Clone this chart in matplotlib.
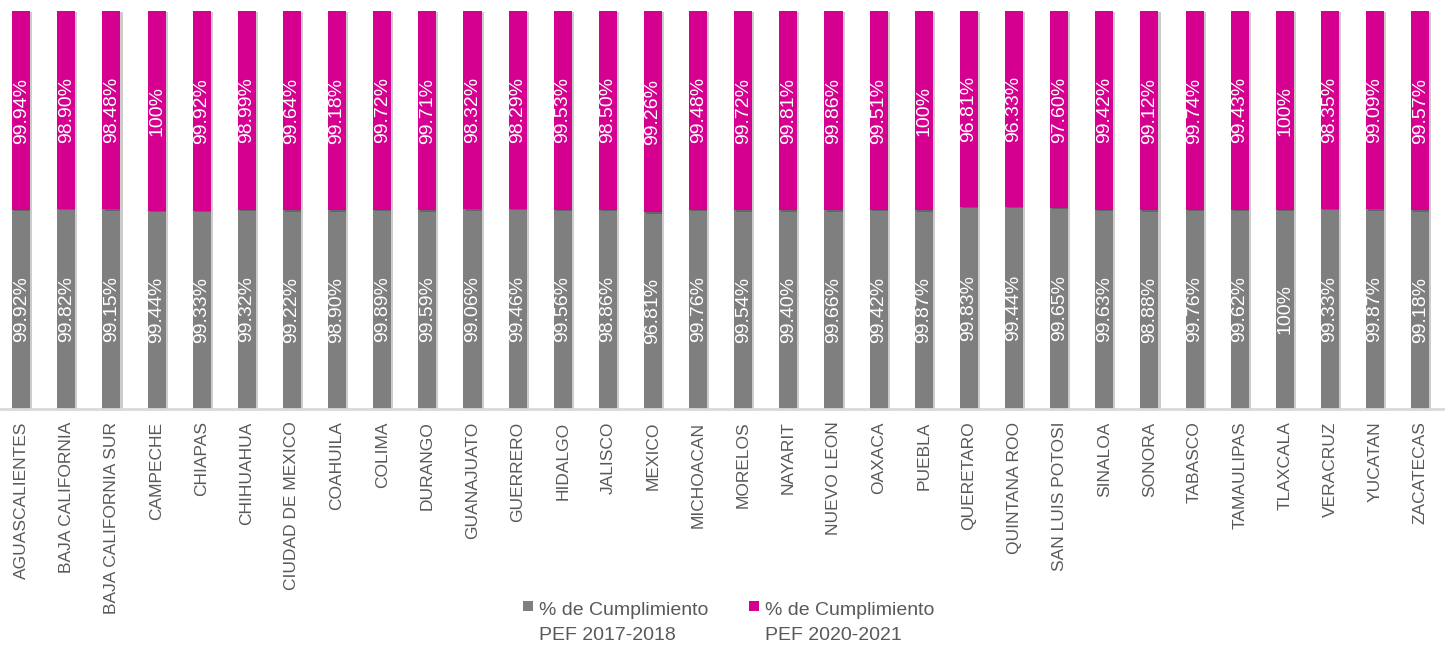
import matplotlib
matplotlib.use('Agg')
import matplotlib.pyplot as plt
import matplotlib.patheffects as pe
from matplotlib.patches import Rectangle, Patch
from matplotlib.legend_handler import HandlerBase
import numpy as np

estados = ['AGUASCALIENTES', 'BAJA CALIFORNIA', 'BAJA CALIFORNIA SUR', 'CAMPECHE', 'CHIAPAS',
           'CHIHUAHUA', 'CIUDAD DE MEXICO', 'COAHUILA', 'COLIMA', 'DURANGO', 'GUANAJUATO',
           'GUERRERO', 'HIDALGO', 'JALISCO', 'MEXICO', 'MICHOACAN', 'MORELOS', 'NAYARIT',
           'NUEVO LEON', 'OAXACA', 'PUEBLA', 'QUERETARO', 'QUINTANA ROO', 'SAN LUIS POTOSI',
           'SINALOA', 'SONORA', 'TABASCO', 'TAMAULIPAS', 'TLAXCALA', 'VERACRUZ', 'YUCATAN',
           'ZACATECAS']

pef_2017_2018 = [99.92, 99.82, 99.15, 99.44, 99.33, 99.32, 99.22, 98.90, 99.89, 99.59, 99.06,
                 99.46, 99.56, 98.86, 96.81, 99.76, 99.54, 99.40, 99.66, 99.42, 99.87, 99.83,
                 99.44, 99.65, 99.63, 98.88, 99.76, 99.62, 100, 99.33, 99.87, 99.18]

pef_2020_2021 = [99.94, 98.90, 98.48, 100, 99.92, 98.99, 99.64, 99.18, 99.72, 99.71, 98.32,
                 98.29, 99.53, 98.50, 99.26, 99.48, 99.72, 99.81, 99.86, 99.51, 100, 96.81,
                 96.33, 97.60, 99.42, 99.12, 99.74, 99.43, 100, 98.35, 99.09, 99.57]

series = ['% de Cumplimiento\nPEF 2017-2018', '% de Cumplimiento\nPEF 2020-2021']

gris = '#7F7F7F'
magenta = '#D5008F'
fuente = 'Liberation Sans'


def etiqueta(v):
    if v == 100:
        return '100%'
    return '%.2f%%' % v


# cuadrito de la leyenda alineado con la primera linea del texto
class Cuadro(HandlerBase):
    def create_artists(self, legend, orig, xdescent, ydescent, width, height, fontsize, trans):
        lado = 7.5
        r = Rectangle((width - lado - xdescent, -ydescent + 12.5), lado, lado,
                      facecolor=orig.get_facecolor(), edgecolor='none', transform=trans)
        return [r]


a = np.array(pef_2017_2018)
b = np.array(pef_2020_2021)
total = a + b
fa = a / total
fb = b / total
x = np.arange(len(estados))

fig = plt.figure(figsize=(14.45, 6.47), dpi=100)
ax = fig.add_axes([0, 1 - 409 / 647, 1, 398 / 647])

sombra = [pe.SimplePatchShadow(offset=(1.5, -1), shadow_rgbFace='k', alpha=0.2), pe.Normal()]
b1 = ax.bar(x, fa, width=0.4, color=gris)
b2 = ax.bar(x, fb, width=0.4, bottom=fa, color=magenta)
for r in list(b1) + list(b2):
    r.set_path_effects(sombra)

for i in range(len(estados)):
    ax.text(x[i], fa[i] / 2, etiqueta(a[i]), rotation=90, ha='center', va='center',
            color='white', fontsize=14, family=fuente)
    ax.text(x[i], fa[i] + fb[i] / 2, etiqueta(b[i]), rotation=90, ha='center', va='center',
            color='white', fontsize=14, family=fuente)

ax.set_xlim(-0.47, 31.55)
ax.set_ylim(0, 1)
ax.set_xticks(x)
ax.set_xticklabels(estados, rotation=90, fontsize=12.5, color='#595959', family=fuente)
ax.tick_params(axis='x', length=0, pad=9)
ax.set_yticks([])
for s in ['top', 'right', 'left']:
    ax.spines[s].set_visible(False)
ax.spines['bottom'].set_color('#D9D9D9')
ax.spines['bottom'].set_linewidth(2)

handles = [Patch(facecolor=gris), Patch(facecolor=magenta)]
leg = fig.legend(handles, series, loc='center', bbox_to_anchor=(728 / 1445, 1 - 623 / 647),
                 ncol=2, frameon=False, fontsize=14, handlelength=0.6, handleheight=0.6,
                 handletextpad=0.3, columnspacing=2.0, labelcolor='#595959',
                 handler_map={Patch: Cuadro()}, prop={'family': fuente, 'size': 14})
for t in leg.get_texts():
    t.set_linespacing(1.55)

fig.savefig('out.png', dpi=100)
